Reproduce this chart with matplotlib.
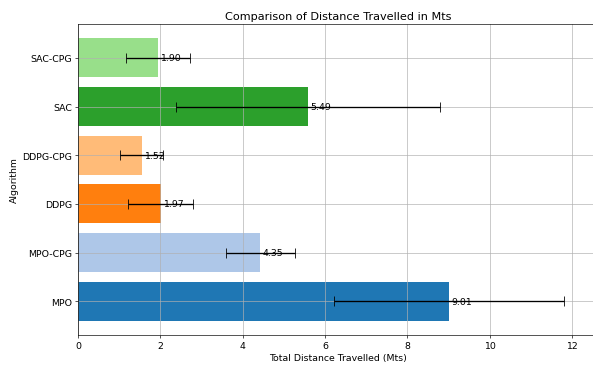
import matplotlib
matplotlib.use("Agg")
import matplotlib.pyplot as plt

# Data (bottom to top)
algorithms = ["MPO", "MPO-CPG", "DDPG", "DDPG-CPG", "SAC", "SAC-CPG"]
distances = [9.01, 4.43, 2.01, 1.55, 5.59, 1.94]
errors = [2.79, 0.83, 0.79, 0.52, 3.21, 0.77]
value_labels = ["9.01", "4.35", "1.97", "1.52", "5.49", "1.90"]
colors = ["#1f77b4", "#aec7e8", "#ff7f0e", "#ffbb78", "#2ca02c", "#98df8a"]


def plot_distances():
    """Horizontal bar chart of distance travelled with error bars"""
    plt.rcParams["font.size"] = 11.4
    fig = plt.figure(figsize=(10, 6.22), dpi=59.3)
    ax = fig.add_axes([0.1315, 0.0894, 0.877, 0.8428])
    bars = ax.barh(algorithms, distances, xerr=errors, color=colors,
                   capsize=5.5, error_kw={"ecolor": "black", "elinewidth": 1.6})
    # Value labels right after each bar
    for bar, text in zip(bars, value_labels):
        ax.text(bar.get_width() + 0.05, bar.get_y() + bar.get_height() / 2,
                text, va="center", ha="left", fontsize=11.4)
    ax.set_title("Comparison of Distance Travelled in Mts", fontsize=13.6)
    ax.set_xlabel("Total Distance Travelled (Mts)")
    ax.set_ylabel("Algorithm")
    ax.set_xlim(0, 12.63)
    ax.grid(True)
    fig.savefig("out.png", dpi=59.3)


if __name__ == "__main__":
    plot_distances()
